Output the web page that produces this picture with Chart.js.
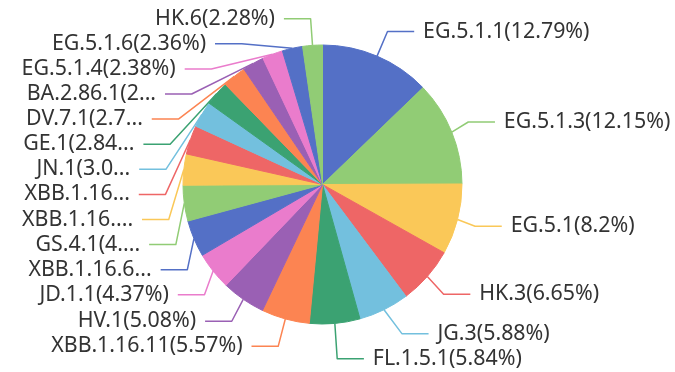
<!DOCTYPE html>
<html>
<head>
<meta charset="utf-8">
<script src="https://cdn.jsdelivr.net/npm/chart.js@4.4.0/dist/chart.umd.min.js"></script>
<style>
  html, body { margin: 0; padding: 0; background: #ffffff; }
  canvas { display: block; }
</style>
</head>
<body>
<canvas id="chart" width="675" height="372"></canvas>
<script>
// Variant names and their share of sequences (%), clockwise from 12 o'clock
const variants = ['EG.5.1.1', 'EG.5.1.3', 'EG.5.1', 'HK.3', 'JG.3', 'FL.1.5.1', 'XBB.1.16.11', 'HV.1',
  'JD.1.1', 'XBB.1.16.6', 'GS.4.1', 'XBB.1.16.15', 'XBB.1.16', 'JN.1', 'GE.1', 'DV.7.1', 'BA.2.86.1',
  'EG.5.1.4', 'EG.5.1.6', 'HK.6'];
const shares = [12.79, 12.15, 8.2, 6.65, 5.88, 5.84, 5.57, 5.08,
  4.37, 4.25, 4.14, 3.6, 3.35, 3.03, 2.84, 2.74, 2.5,
  2.38, 2.36, 2.28];
const palette = ['#5470c6', '#91cc75', '#fac858', '#ee6666', '#73c0de', '#3ba272', '#fc8452', '#9a60b4', '#ea7ccc'];

const sliceColors = variants.map((_, i) => palette[i % palette.length]);
const labelTexts = variants.map((v, i) => v + '(' + shares[i] + '%)');

// Outside-label geometry (scaled from a 12px base)
const S = 1.78;
const LINE_LEN = 15 * S;
const LINE_LEN2 = 15 * S;
const LABEL_DIST = 5 * S;
const BLEED = 10 * S;
const RECT_H = 14.1 * S;
const FONT = (12 * S).toFixed(2) + 'px "Noto Sans"';
const VIEW_LEFT = -1.2;
const VIEW_RIGHT = 690;

function estimateLength(text, contentWidth, ascW, cnW) {
  let width = 0, i = 0;
  for (const len = text.length; i < len && width < contentWidth; i++) {
    const c = text.charCodeAt(i);
    width += (c >= 0 && c <= 127) ? ascW : cnW;
  }
  return i;
}

function truncateText(ctx, text, containerWidth) {
  const cw = Math.max(0, containerWidth - 1);
  if (!cw) return '';
  const ascW = ctx.measureText('a').width;
  const cnW = ctx.measureText('国').width;
  let ellipsis = '...';
  let ellW = ctx.measureText(ellipsis).width;
  if (ellW > cw) { ellipsis = ''; ellW = 0; }
  const contentWidth = cw - ellW;
  let line = text;
  let lw = ctx.measureText(line).width;
  if (lw <= cw) return line;
  for (let j = 0; ; j++) {
    if (lw <= contentWidth || j >= 2) { line += ellipsis; break; }
    const sub = j === 0 ? estimateLength(line, contentWidth, ascW, cnW)
      : (lw > 0 ? Math.floor(line.length * contentWidth / lw) : 0);
    line = line.substr(0, sub);
    lw = ctx.measureText(line).width;
  }
  return line;
}

// Push overlapping label boxes apart along y, within [minB, maxB]
function shiftLayout(list, minB, maxB) {
  const len = list.length;
  if (len < 2) return false;
  list.sort((a, b) => a.ry - b.ry);
  let lastPos = 0, adjusted = false;
  for (let i = 0; i < len; i++) {
    const it = list[i];
    const delta = it.ry - lastPos;
    if (delta < 0) { it.ry -= delta; it.y -= delta; adjusted = true; }
    lastPos = it.ry + RECT_H;
  }
  const first = list[0], last = list[len - 1];
  let minGap, maxGap;
  function updateGaps() { minGap = first.ry - minB; maxGap = maxB - last.ry - RECT_H; }
  function shiftList(d, s, e) {
    if (d !== 0) adjusted = true;
    for (let i = s; i < e; i++) { list[i].ry += d; list[i].y += d; }
  }
  function squeezeGaps(d, maxPct) {
    const gaps = []; let total = 0;
    for (let i = 1; i < len; i++) {
      const g = Math.max(list[i].ry - list[i - 1].ry - RECT_H, 0);
      gaps.push(g); total += g;
    }
    if (!total) return;
    const pct = Math.min(Math.abs(d) / total, maxPct);
    if (d > 0) { for (let i = 0; i < len - 1; i++) shiftList(gaps[i] * pct, 0, i + 1); }
    else { for (let i = len - 1; i > 0; i--) shiftList(-gaps[i - 1] * pct, i, len); }
  }
  function takeBoundsGap(gThis, gOther, dir) {
    if (gThis < 0) {
      const mv = Math.min(gOther, -gThis);
      if (mv > 0) {
        shiftList(mv * dir, 0, len);
        const rem = mv + gThis;
        if (rem < 0) squeezeGaps(-rem * dir, 1);
      } else squeezeGaps(-gThis * dir, 1);
    }
  }
  updateGaps();
  if (minGap < 0) squeezeGaps(-minGap, 0.8);
  if (maxGap < 0) squeezeGaps(maxGap, 0.8);
  updateGaps();
  takeBoundsGap(minGap, maxGap, 1);
  takeBoundsGap(maxGap, minGap, -1);
  return adjusted;
}

// Re-seat shifted labels on an ellipse around the pie
function recalcX(list, cx, cy, r, dir) {
  const semis = [{ list: [], maxY: 0, rB: 0 }, { list: [], maxY: 0, rB: 0 }];
  const rA = r + LINE_LEN;
  list.forEach(it => {
    const semi = it.y > cy ? semis[1] : semis[0];
    const dy = Math.abs(it.y - cy);
    if (dy >= semi.maxY) {
      const dx = it.x - cx - LINE_LEN2 * dir;
      semi.rB = Math.abs(dx) < rA ? Math.sqrt(dy * dy / (1 - dx * dx / rA / rA)) : rA;
      semi.maxY = dy;
    }
    semi.list.push(it);
  });
  semis.forEach(semi => {
    semi.list.forEach(it => {
      const dy = Math.abs(it.y - cy);
      const dx = Math.sqrt(Math.max(0, 1 - dy * dy / (semi.rB * semi.rB)) * rA * rA);
      it.x = cx + (dx + LINE_LEN2) * dir;
    });
  });
}

function projectPointToLine(x1, y1, x2, y2, x, y, out) {
  const dx = x - x1, dy = y - y1;
  let dx1 = x2 - x1, dy1 = y2 - y1;
  const l = Math.sqrt(dx1 * dx1 + dy1 * dy1);
  dx1 /= l; dy1 /= l;
  const t = dx * dx1 + dy * dy1;
  out[0] = x1 + t * dx1; out[1] = y1 + t * dy1;
  return Math.hypot(out[0] - x, out[1] - y);
}

function limitTurnAngle(p, minDeg) {
  const a = minDeg / 180 * Math.PI;
  let d1x = p[0][0] - p[1][0], d1y = p[0][1] - p[1][1];
  let d2x = p[2][0] - p[1][0], d2y = p[2][1] - p[1][1];
  const l1 = Math.hypot(d1x, d1y), l2 = Math.hypot(d2x, d2y);
  if (l1 < 1e-3 || l2 < 1e-3) return;
  d1x /= l1; d1y /= l1; d2x /= l2; d2y /= l2;
  if (Math.cos(a) < d1x * d2x + d1y * d2y) {
    const proj = [0, 0];
    const d = projectPointToLine(p[1][0], p[1][1], p[2][0], p[2][1], p[0][0], p[0][1], proj);
    const k = d / Math.tan(Math.PI - a);
    let px = proj[0] + d2x * k, py = proj[1] + d2y * k;
    const t = p[2][0] !== p[1][0] ? (px - p[1][0]) / (p[2][0] - p[1][0]) : (py - p[1][1]) / (p[2][1] - p[1][1]);
    if (isNaN(t)) return;
    if (t < 0) { px = p[1][0]; py = p[1][1]; } else if (t > 1) { px = p[2][0]; py = p[2][1]; }
    p[1] = [px, py];
  }
}

function limitSurfaceAngle(p, normal, maxDeg) {
  const a = maxDeg / 180 * Math.PI;
  let d1x = p[1][0] - p[0][0], d1y = p[1][1] - p[0][1];
  let d2x = p[2][0] - p[1][0], d2y = p[2][1] - p[1][1];
  const l1 = Math.hypot(d1x, d1y), l2 = Math.hypot(d2x, d2y);
  if (l1 < 1e-3 || l2 < 1e-3) return;
  d1x /= l1; d1y /= l1; d2x /= l2; d2y /= l2;
  if (d1x * normal[0] + d1y * normal[1] < Math.cos(a)) {
    const proj = [0, 0];
    const d = projectPointToLine(p[1][0], p[1][1], p[2][0], p[2][1], p[0][0], p[0][1], proj);
    const angle2 = Math.acos(Math.max(-1, Math.min(1, d2x * normal[0] + d2y * normal[1])));
    const newAngle = Math.PI / 2 + angle2 - a;
    let px, py;
    if (newAngle >= Math.PI / 2) { px = p[2][0]; py = p[2][1]; }
    else {
      const k = d / Math.tan(Math.PI / 2 - newAngle);
      px = proj[0] + d2x * k; py = proj[1] + d2y * k;
      const t = p[2][0] !== p[1][0] ? (px - p[1][0]) / (p[2][0] - p[1][0]) : (py - p[1][1]) / (p[2][1] - p[1][1]);
      if (isNaN(t)) return;
      if (t < 0) { px = p[1][0]; py = p[1][1]; } else if (t > 1) { px = p[2][0]; py = p[2][1]; }
    }
    p[1] = [px, py];
  }
}

// Outside labels with two-segment leader lines
const pieLabels = {
  id: 'pieLabels',
  afterDatasetsDraw(chart) {
    const ctx = chart.ctx;
    const arcs = chart.getDatasetMeta(0).data;
    if (!arcs.length) return;
    const cx = arcs[0].x, cy = arcs[0].y, r = arcs[0].outerRadius;
    ctx.save();
    ctx.font = FONT;
    const items = arcs.map((arc, i) => {
      const mid = (arc.startAngle + arc.endAngle) / 2;
      const dx = Math.cos(mid), dy = Math.sin(mid);
      const dir = dx < 0 ? -1 : 1;
      const x1 = cx + dx * r, y1 = cy + dy * r;
      const x2 = x1 + dx * LINE_LEN, y2 = y1 + dy * LINE_LEN;
      const x3 = x2 + dir * LINE_LEN2;
      return {
        i, dir, normal: [dx, dy], text: labelTexts[i], color: sliceColors[i],
        pts: [[x1, y1], [x2, y2], [x3, y2]],
        x: x3 + dir * LABEL_DIST, y: y2, ry: y2 - RECT_H / 2
      };
    });
    const left = items.filter(it => it.x < cx);
    const right = items.filter(it => it.x >= cx);
    [[right, 1], [left, -1]].forEach(([list, dir]) => {
      if (shiftLayout(list, 0, chart.height)) recalcX(list, cx, cy, r, dir);
    });
    items.forEach(it => {
      const avail = it.x < cx ? it.x - VIEW_LEFT - BLEED : VIEW_RIGHT - it.x - BLEED;
      it.shown = truncateText(ctx, it.text, avail);
      const p = it.pts;
      const dist = p[1][0] - p[2][0];
      p[2][0] = it.x < cx ? it.x + LABEL_DIST : it.x - LABEL_DIST;
      p[1][0] = p[2][0] + dist;
      p[1][1] = p[2][1] = it.y;
      limitTurnAngle(p, 90);
      limitSurfaceAngle(p, it.normal, 90);
    });
    ctx.lineWidth = 1.5;
    ctx.lineJoin = 'round';
    items.forEach(it => {
      ctx.strokeStyle = it.color;
      ctx.beginPath();
      ctx.moveTo(it.pts[0][0], it.pts[0][1]);
      ctx.lineTo(it.pts[1][0], it.pts[1][1]);
      ctx.lineTo(it.pts[2][0], it.pts[2][1]);
      ctx.stroke();
    });
    ctx.fillStyle = '#333333';
    ctx.textBaseline = 'middle';
    items.forEach(it => {
      ctx.textAlign = it.x < cx ? 'right' : 'left';
      ctx.fillText(it.shown, it.x, it.y);
    });
    ctx.restore();
  }
};

function draw() {
  new Chart(document.getElementById('chart'), {
    type: 'pie',
    data: {
      labels: variants,
      datasets: [{
        data: shares,
        backgroundColor: sliceColors,
        borderColor: sliceColors,
        borderWidth: 1
      }]
    },
    options: {
      responsive: false,
      animation: false,
      layout: { padding: { left: 182.5, top: 44.5, right: 212.5, bottom: 47.5 } },
      plugins: { legend: { display: false }, tooltip: { enabled: false } }
    },
    plugins: [pieLabels]
  });
}

if (document.fonts && document.fonts.load) {
  document.fonts.load(FONT).then(draw, draw);
} else {
  draw();
}
</script>
</body>
</html>
